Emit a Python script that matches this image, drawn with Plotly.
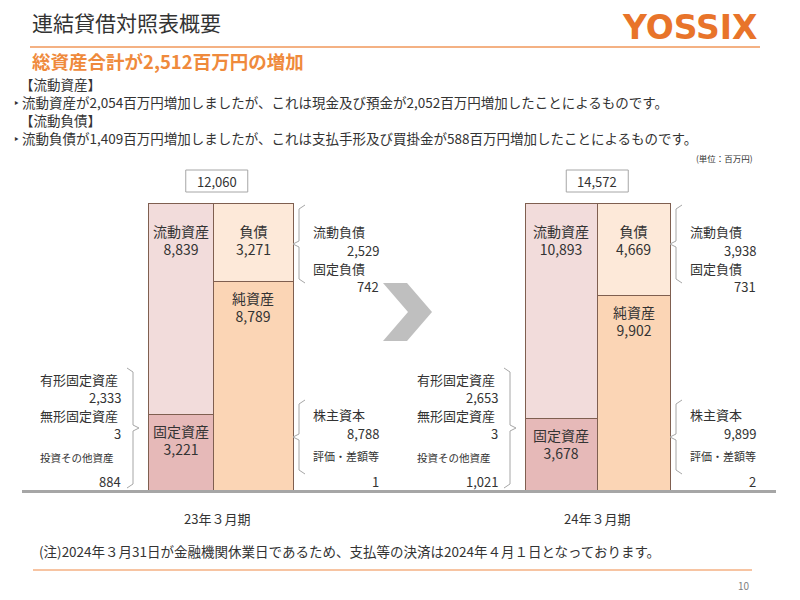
import plotly.graph_objects as go

# balance sheet data (百万円)
periods = ["23年３月期", "24年３月期"]
totals = [12060, 14572]
current_assets = [8839, 10893]
fixed_assets = [3221, 3678]
liabilities = [3271, 4669]
net_assets = [8789, 9902]
current_liab = [2529, 3938]
fixed_liab = [742, 731]
shareholders_equity = [8788, 9899]
valuation_diff = [1, 2]
tangible_fixed = [2333, 2653]
intangible_fixed = [3, 3]
investments_other = [884, 1021]

# layout constants (page pixels)
FONT = "Noto Sans CJK JP"
TXT = "#333333"
OFF = 8  # page body margin
BAR_TOP, BAR_BOT = 203, 491
asset_x = [180.5, 561]
asset_w = [65, 72]
liab_x = [253, 633.5]
liab_w = [80, 73]


def py(p):
    return 1 - (p - OFF) / 600


def pct_to_px(v):
    return BAR_BOT - v / 100 * (BAR_BOT - BAR_TOP)


fig = go.Figure()
edge = dict(color="#7f5f50", width=1)
fig.add_trace(go.Bar(x=asset_x, y=fixed_assets, width=asset_w,
                     marker=dict(color="#e6b9b8", line=edge), hoverinfo="skip"))
fig.add_trace(go.Bar(x=asset_x, y=current_assets, width=asset_w,
                     marker=dict(color="#f2dcdb", line=edge), hoverinfo="skip"))
fig.add_trace(go.Bar(x=liab_x, y=net_assets, width=liab_w,
                     marker=dict(color="#fbd5b5", line=edge), hoverinfo="skip"))
fig.add_trace(go.Bar(x=liab_x, y=liabilities, width=liab_w,
                     marker=dict(color="#fde9d9", line=edge), hoverinfo="skip"))

ann = []
shapes = []


def text(x, y, s, size=13, anchor="left", color=TXT, bold=False, font=FONT):
    if bold:
        s = f"<b>{s}</b>"
    ann.append(dict(x=x, y=py(y), xref="x", yref="paper", text=s, showarrow=False,
                    xanchor=anchor, yanchor="middle",
                    font=dict(family=font, size=size, color=color)))


def bracket(x, y0, y1, facing):
    # facing=-1: tip points left; +1: tip points right
    d = 6 * -facing
    m = (y0 + y1) / 2
    pts = [(x + d, y0), (x, y0 + 4), (x, m - 3), (x + 6 * facing, m),
           (x, m + 3), (x, y1 - 4), (x + d, y1)]
    path = "M " + " L ".join(f"{a},{py(b)}" for a, b in pts)
    shapes.append(dict(type="path", path=path, xref="x", yref="paper",
                       line=dict(color="#a6a6a6", width=1)))


def fmt(v):
    return f"{v:,}"


# header
text(30, 22, "連結貸借対照表概要", size=21)
text(760, 28, "YOSSIX", size=33, anchor="right", color="#e8742a", bold=True,
     font="DejaVu Sans")
shapes.append(dict(type="line", xref="x", yref="paper", x0=30, x1=760, y0=py(47), y1=py(47),
                   line=dict(color="#f4b183", width=2)))
text(30, 61, "総資産合計が2,512百万円の増加", size=18.5, color="#ef8a3c", bold=True)
text(18, 84, "【流動資産】", size=13.5)
text(12, 102, "‣ 流動資産が2,054百万円増加しましたが、これは現金及び預金が2,052百万円増加したことによるものです。", size=13.5)
text(18, 120, "【流動負債】", size=13.5)
text(12, 138, "‣ 流動負債が1,409百万円増加しましたが、これは支払手形及び買掛金が588百万円増加したことによるものです。", size=13.5)
text(755, 158, "(単位：百万円)", size=8.5, anchor="right")

for i in range(2):
    ax, lx = asset_x[i], liab_x[i]
    # total box
    shapes.append(dict(type="rect", xref="x", yref="paper", x0=(ax + lx) / 2 - 31,
                       x1=(ax + lx) / 2 + 31, y0=py(192), y1=py(170),
                       line=dict(color="#a6a6a6", width=1)))
    text((ax + lx) / 2, 181, fmt(totals[i]), anchor="center")
    # segment labels positioned from data shares
    fa_top = pct_to_px(fixed_assets[i] / totals[i] * 100)
    na_top = pct_to_px(net_assets[i] / (net_assets[i] + liabilities[i]) * 100)
    text(ax, 240, "流動資産<br>" + fmt(current_assets[i]), size=14, anchor="center")
    text(ax, fa_top + 26, "固定資産<br>" + fmt(fixed_assets[i]), size=14, anchor="center")
    text(lx, 240, "負債<br>" + fmt(liabilities[i]), size=14, anchor="center")
    text(lx, na_top + 26, "純資産<br>" + fmt(net_assets[i]), size=14, anchor="center")
    text((ax + lx) / 2, 518, periods[i], anchor="center")

    # right-side breakdown
    rx = lx + (liab_w[i] / 2) + 18
    rv = rx + 70
    bracket(rx - 12, 205, 283, -1)
    text(rx, 232, "流動負債")
    text(rv, 250, fmt(current_liab[i]), anchor="right")
    text(rx, 268, "固定負債")
    text(rv, 286, fmt(fixed_liab[i]), anchor="right")
    bracket(rx - 12, 400, 474, -1)
    text(rx, 414, "株主資本")
    text(rv, 433, fmt(shareholders_equity[i]), anchor="right")
    text(rx, 456, "評価・差額等", size=11)
    text(rv, 481, fmt(valuation_diff[i]), anchor="right")

    # left-side breakdown
    lv = ax - asset_w[i] / 2 - 25
    lt = lv - 85
    bracket(lv + 10, 368, 488, 1)
    text(lt, 379, "有形固定資産")
    text(lv, 397, fmt(tangible_fixed[i]), anchor="right")
    text(lt, 415, "無形固定資産")
    text(lv, 433, fmt(intangible_fixed[i]), anchor="right")
    text(lt, 457, "投資その他資産", size=10.5)
    text(lv, 481, fmt(investments_other[i]), anchor="right")

# chevron arrow
chev = [(383, 283), (407, 283), (432, 312), (407, 341), (383, 341), (408, 312)]
shapes.append(dict(type="path", xref="x", yref="paper",
                   path="M " + " L ".join(f"{a},{py(b)}" for a, b in chev) + " Z",
                   fillcolor="#bfbfbf", line=dict(width=0)))
# baseline and footer
shapes.append(dict(type="line", xref="x", yref="paper", x0=22, x1=776, y0=py(491.5), y1=py(491.5),
                   line=dict(color="#a6a6a6", width=3)))
text(37, 551, "(注)2024年３月31日が金融機関休業日であるため、支払等の決済は2024年４月１日となっております。", size=13.5)
shapes.append(dict(type="line", xref="x", yref="paper", x0=33, x1=752, y0=py(570), y1=py(570),
                   line=dict(color="#f4b183", width=1.5)))
text(752, 585, "10", size=10, anchor="right", color="#7f7f7f")

fig.update_layout(
    width=800, height=600, barmode="stack", barnorm="percent",
    margin=dict(l=0, r=0, t=0, b=0), showlegend=False,
    paper_bgcolor="white", plot_bgcolor="white",
    xaxis=dict(range=[OFF, 800 + OFF], visible=False, domain=[0, 1]),
    yaxis=dict(range=[0, 100], visible=False, domain=[py(BAR_BOT), py(BAR_TOP)]),
    annotations=ann, shapes=shapes,
)
fig.write_html("out.html")
